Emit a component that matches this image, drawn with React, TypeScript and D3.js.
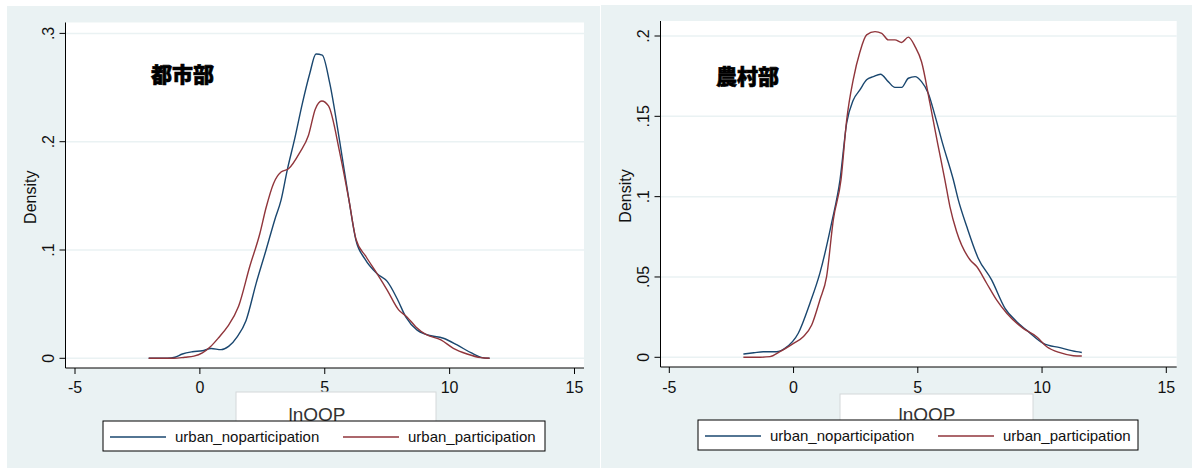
import React, { useEffect, useRef } from 'react';
import * as d3 from 'd3';

// kernel density curves: [lnOOP, density]
const urbanNoParticipation: [number, number][] = [
  [-2.05, 0], [-1.3, 0], [-1.0, 0.001], [-0.7, 0.004], [-0.3, 0.006], [0.1, 0.007],
  [0.45, 0.009], [0.85, 0.008], [1.15, 0.011], [1.5, 0.02], [1.85, 0.035], [2.25, 0.069],
  [2.65, 0.1], [3.0, 0.128], [3.25, 0.146], [3.5, 0.174], [3.8, 0.203], [4.1, 0.235],
  [4.4, 0.263], [4.65, 0.281], [4.9, 0.28], [5.2, 0.254], [5.6, 0.2], [5.97, 0.146],
  [6.25, 0.109], [6.6, 0.092], [7.1, 0.078], [7.5, 0.071], [7.9, 0.055], [8.25, 0.038],
  [8.7, 0.026], [9.05, 0.022], [9.75, 0.0185], [10.3, 0.0123], [10.85, 0.0052],
  [11.3, 0.0006], [11.6, 0],
];

const urbanParticipation: [number, number][] = [
  [-2.05, 0], [-1.05, 0], [-0.6, 0.001], [-0.24, 0.002], [0.1, 0.005], [0.42, 0.0107],
  [0.75, 0.019], [1.1, 0.029], [1.55, 0.048], [2.0, 0.085], [2.4, 0.115], [2.65, 0.139],
  [2.95, 0.1615], [3.25, 0.172], [3.55, 0.175], [4.0, 0.19], [4.35, 0.206], [4.62, 0.23],
  [4.88, 0.2376], [5.15, 0.233], [5.6, 0.19], [5.97, 0.146], [6.25, 0.11], [6.65, 0.094],
  [7.1, 0.078], [7.5, 0.063], [7.95, 0.045], [8.3, 0.038], [8.65, 0.029], [9.05, 0.022],
  [9.65, 0.017], [10.15, 0.0092], [10.7, 0.004], [11.25, 0.0006], [11.6, 0],
];

const ruralNoParticipation: [number, number][] = [
  [-2.02, 0.002], [-1.6, 0.0028], [-1.22, 0.0035], [-0.68, 0.0035], [-0.35, 0.0056],
  [0.19, 0.015], [0.66, 0.0337], [1.06, 0.0524], [1.53, 0.0835], [1.87, 0.1105],
  [2.14, 0.146], [2.4, 0.16], [2.67, 0.1664], [2.94, 0.1727], [3.21, 0.1747], [3.5, 0.1762],
  [3.81, 0.1716], [4.08, 0.168], [4.35, 0.168], [4.62, 0.1737], [4.89, 0.1747],
  [5.15, 0.1716], [5.42, 0.1644], [5.7, 0.15], [6.0, 0.133], [6.43, 0.1105], [6.63, 0.098],
  [6.97, 0.0814], [7.43, 0.0617], [7.97, 0.0482], [8.51, 0.0305], [8.98, 0.0222],
  [9.45, 0.016], [10.05, 0.0087], [10.72, 0.006], [11.39, 0.0035], [11.6, 0.003],
];

const ruralParticipation: [number, number][] = [
  [-2.02, 0], [-1.5, 0], [-0.95, 0.0004], [-0.55, 0.0035], [0, 0.0087], [0.39, 0.0128],
  [0.73, 0.0201], [1.06, 0.0357], [1.33, 0.0502], [1.6, 0.0856], [1.91, 0.1105],
  [2.14, 0.148], [2.4, 0.1727], [2.67, 0.19], [2.94, 0.2007], [3.28, 0.2027], [3.55, 0.2017],
  [3.81, 0.1976], [4.08, 0.1976], [4.35, 0.196], [4.62, 0.1993], [4.89, 0.1934],
  [5.15, 0.184], [5.49, 0.158], [5.8, 0.133], [6.09, 0.1105], [6.29, 0.094], [6.56, 0.0783],
  [7.1, 0.0607], [7.37, 0.0565], [7.77, 0.0461], [8.17, 0.0357], [8.58, 0.0274],
  [9.24, 0.018], [9.78, 0.0128], [10.19, 0.0066], [10.72, 0.0029], [11.26, 0.001], [11.6, 0.0008],
];

const xTicks = [-5, 0, 5, 10, 15];
const urbanYTicks = [0, 0.1, 0.2, 0.3];
const urbanYLabels = ['0', '.1', '.2', '.3'];
const ruralYTicks = [0, 0.05, 0.1, 0.15, 0.2];
const ruralYLabels = ['0', '.05', '.1', '.15', '.2'];
const seriesNames = ['urban_noparticipation', 'urban_participation'];
const seriesColors = ['#1a476f', '#90353b'];
const panelTitles = ['都市部', '農村部'];
const xTitle = 'lnOOP';
const yTitle = 'Density';

interface PanelLayout {
  bg: [number, number, number, number];
  plot: [number, number, number, number]; // x0, x1, y0, y1
  xRange: [number, number];
  yRange: [number, number];
  yMax: number;
  titleAt: [number, number];
  xBox: [number, number, number, number];
  xTextAt: [number, number];
  legend: [number, number, number, number];
}

const layouts: PanelLayout[] = [
  {
    bg: [7, 6, 593, 462],
    plot: [65.5, 584, 22.5, 368],
    xRange: [75, 574.5],
    yRange: [358.3, 33.4],
    yMax: 0.3,
    titleAt: [151, 82],
    xBox: [236, 392, 200, 31],
    xTextAt: [317, 421],
    legend: [103, 421, 442, 30],
  },
  {
    bg: [601, 5, 591, 463],
    plot: [660.5, 1176.7, 21, 367],
    xRange: [669.3, 1166.3],
    yRange: [357.3, 36],
    yMax: 0.2,
    titleAt: [716, 84],
    xBox: [840, 394, 193, 29],
    xTextAt: [927, 421],
    legend: [698, 420, 440, 30],
  },
];

const FONT = '"Liberation Sans", Arial, sans-serif';

const App: React.FC = () => {
  const svgRef = useRef<SVGSVGElement>(null);

  useEffect(() => {
    if (!svgRef.current) return;
    const svg = d3.select(svgRef.current);
    svg.selectAll('*').remove();

    const panels = [
      { series: [urbanNoParticipation, urbanParticipation], yTicks: urbanYTicks, yLabels: urbanYLabels },
      { series: [ruralNoParticipation, ruralParticipation], yTicks: ruralYTicks, yLabels: ruralYLabels },
    ];

    panels.forEach((p, i) => {
      const L = layouts[i];
      const g = svg.append('g');
      const [px0, px1, py0, py1] = L.plot;

      const x = d3.scaleLinear().domain([-5, 15]).range(L.xRange);
      const y = d3.scaleLinear().domain([0, L.yMax]).range(L.yRange);

      // graph region
      g.append('rect')
        .attr('x', L.bg[0]).attr('y', L.bg[1])
        .attr('width', L.bg[2]).attr('height', L.bg[3])
        .attr('fill', '#eaf2f3');

      // plot region
      g.append('rect')
        .attr('x', px0).attr('y', py0)
        .attr('width', px1 - px0).attr('height', py1 - py0)
        .attr('fill', '#ffffff');

      // grid lines
      g.selectAll('.grid')
        .data(p.yTicks)
        .enter()
        .append('line')
        .attr('x1', px0).attr('x2', px1)
        .attr('y1', d => y(d)).attr('y2', d => y(d))
        .attr('stroke', '#eaf2f3')
        .attr('stroke-width', 1.5);

      // density curves
      const line = d3.line<[number, number]>()
        .x(d => x(d[0]))
        .y(d => y(d[1]))
        .curve(d3.curveMonotoneX);

      p.series.forEach((s, k) => {
        g.append('path')
          .attr('d', line(s) || '')
          .attr('fill', 'none')
          .attr('stroke', seriesColors[k])
          .attr('stroke-width', 1.4)
          .attr('stroke-linejoin', 'round');
      });

      // axes
      g.append('line')
        .attr('x1', px0).attr('x2', px0)
        .attr('y1', py0).attr('y2', py1)
        .attr('stroke', '#000').attr('stroke-width', 1);
      g.append('line')
        .attr('x1', px0).attr('x2', px1)
        .attr('y1', py1).attr('y2', py1)
        .attr('stroke', '#000').attr('stroke-width', 1);

      // y ticks
      p.yTicks.forEach((t, k) => {
        g.append('line')
          .attr('x1', px0 - 6).attr('x2', px0)
          .attr('y1', y(t)).attr('y2', y(t))
          .attr('stroke', '#000');
        g.append('text')
          .attr('transform', `translate(${px0 - 12},${y(t)}) rotate(-90)`)
          .attr('text-anchor', 'middle')
          .style('font-family', FONT)
          .style('font-size', '16px')
          .style('fill', '#111')
          .text(p.yLabels[k]);
      });

      // x ticks
      xTicks.forEach(t => {
        g.append('line')
          .attr('x1', x(t)).attr('x2', x(t))
          .attr('y1', py1).attr('y2', py1 + 6)
          .attr('stroke', '#000');
        g.append('text')
          .attr('x', x(t))
          .attr('y', 393)
          .attr('text-anchor', 'middle')
          .style('font-family', FONT)
          .style('font-size', '16px')
          .style('fill', '#111')
          .text(String(t));
      });

      // y title
      g.append('text')
        .attr('transform', `translate(${px0 - 30},${(py0 + py1) / 2 + 2}) rotate(-90)`)
        .attr('text-anchor', 'middle')
        .style('font-family', FONT)
        .style('font-size', '16px')
        .style('fill', '#111')
        .text(yTitle);

      // panel title
      g.append('text')
        .attr('x', L.titleAt[0])
        .attr('y', L.titleAt[1])
        .style('font-family', '"Noto Sans CJK JP", "Noto Sans CJK SC", sans-serif')
        .style('font-size', '21px')
        .style('font-weight', 900)
        .style('fill', '#000')
        .style('stroke', '#000')
        .style('stroke-width', 0.6)
        .text(panelTitles[i]);

      // x title box
      g.append('rect')
        .attr('x', L.xBox[0]).attr('y', L.xBox[1])
        .attr('width', L.xBox[2]).attr('height', L.xBox[3])
        .attr('fill', '#fff')
        .attr('stroke', '#d4d8da')
        .attr('stroke-width', 1);
      g.append('text')
        .attr('x', L.xTextAt[0])
        .attr('y', L.xTextAt[1])
        .attr('text-anchor', 'middle')
        .style('font-family', FONT)
        .style('font-size', '19px')
        .style('fill', '#333')
        .text(xTitle);

      // legend
      const [lx, ly, lw, lh] = L.legend;
      g.append('rect')
        .attr('x', lx).attr('y', ly)
        .attr('width', lw).attr('height', lh)
        .attr('fill', '#fff')
        .attr('stroke', '#000')
        .attr('stroke-width', 1);
      seriesNames.forEach((name, k) => {
        const ox = lx + 7 + k * 233;
        const cy = ly + lh / 2 + 1;
        g.append('line')
          .attr('x1', ox).attr('x2', ox + 56)
          .attr('y1', cy).attr('y2', cy)
          .attr('stroke', seriesColors[k])
          .attr('stroke-width', 1.4);
        g.append('text')
          .attr('x', ox + 65)
          .attr('y', cy + 5)
          .style('font-family', FONT)
          .style('font-size', '15px')
          .style('fill', '#111')
          .text(name);
      });
    });
  }, []);

  return (
    <svg
      ref={svgRef}
      width={1196}
      height={469}
      style={{ position: 'absolute', left: 0, top: 0, background: '#fff' }}
    />
  );
};

export default App;
